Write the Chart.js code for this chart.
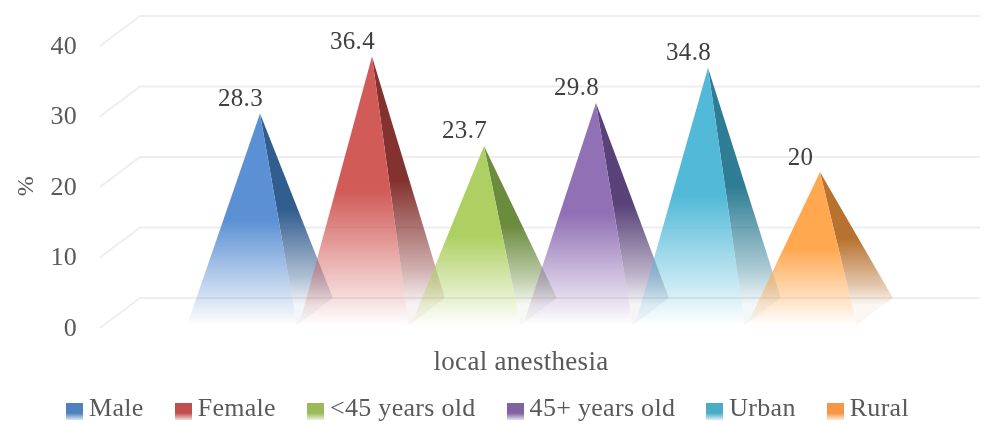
<!DOCTYPE html>
<html>
<head>
<meta charset="utf-8">
<title>Local anesthesia</title>
<script src="https://cdn.jsdelivr.net/npm/chart.js@4"></script>
<style>
  html, body { margin: 0; padding: 0; background: #fff; }
  canvas { display: block; }
</style>
</head>
<body>
<canvas id="pyramidChart" width="984" height="424"></canvas>
<script>
// Chart data
const categories = ['local anesthesia'];
const seriesNames = ['Male', 'Female', '<45 years old', '45+ years old', 'Urban', 'Rural'];
const seriesValues = [28.3, 36.4, 23.7, 29.8, 34.8, 20];
const yTicks = [0, 10, 20, 30, 40];

// Face colours per series, lit side and shaded side, then the legend markers
const frontColors = ['91,144,212', '209,91,87', '174,208,98', '145,112,181', '82,186,216', '255,168,80'];
const sideColors = ['50,93,143', '132,50,48', '107,139,62', '88,66,120', '47,125,148', '184,114,48'];
const legendColors = ['79,129,189', '192,80,77', '155,187,89', '128,100,162', '75,172,198', '247,150,70'];

const FONT = 'Liberation Serif';
const FONT_SIZE = 25;
const GRID_DEPTH_X = 20; // floor depth of the fake 3D view
const GRID_DEPTH_Y = 15;
const BASE_DEPTH_X = 18; // pyramid footprint is a bit shallower than the floor
const BASE_FRONT_Y = 12;
const BASE_BACK_Y = 15;
const SIDE_FADE_END = 8; // shaded face is gone just under the wall line

// vertical fade: solid down to the middle, then thinning out
function fadeGradient(ctx, top, bottom, rgb, stops) {
    const g = ctx.createLinearGradient(0, top, 0, bottom);
    g.addColorStop(0, `rgba(${rgb},1)`);
    stops.forEach((s) => g.addColorStop(s[0], `rgba(${rgb},${s[1]})`));
    return g;
}
const frontFade = [[0.5, 1], [0.75, 0.5], [0.92, 0.17], [1, 0]];
const sideFade = [[0.5, 1], [0.85, 0.4], [1, 0.06]];

// little gradient square used as legend marker, drawn in the lower part of
// its canvas because the text midline sits a bit above the marker centre
function legendSwatch(rgb) {
    const c = document.createElement('canvas');
    c.width = 17;
    c.height = 21;
    const sctx = c.getContext('2d');
    const g = sctx.createLinearGradient(0, 4, 0, 21);
    g.addColorStop(0, `rgba(${rgb},1)`);
    g.addColorStop(0.6, `rgba(${rgb},1)`);
    g.addColorStop(1, `rgba(${rgb},0.2)`);
    sctx.fillStyle = g;
    sctx.fillRect(0, 4, 17, 17);
    return c;
}

function fillFace(ctx, points, style) {
    ctx.fillStyle = style;
    ctx.beginPath();
    ctx.moveTo(points[0][0], points[0][1]);
    points.slice(1).forEach((p) => ctx.lineTo(p[0], p[1]));
    ctx.closePath();
    ctx.fill();
}

// letter spacing has to be on the context before text gets measured
const textSpacing = {
    id: 'textSpacing',
    beforeLayout(chart) { chart.ctx.letterSpacing = '0.3px'; },
    beforeDraw(chart) { chart.ctx.letterSpacing = '0.3px'; }
};

// small nudges after layout: x labels are clipped to the scale box, so it
// reaches over the legend; the % title sits lower; the legend moves right
const boxNudges = {
    id: 'boxNudges',
    afterLayout(chart) {
        chart.scales.x.bottom += 40;
        chart.scales.y.bottom += 28;
        chart.legend.left += 7.5;
        chart.legend.right += 7.5;
    }
};

// back wall lines and floor diagonals for each y tick
const wallGrid = {
    id: 'wallGrid',
    beforeDatasetsDraw(chart) {
        const { ctx, chartArea, scales } = chart;
        ctx.save();
        ctx.strokeStyle = '#eeeeee';
        ctx.lineWidth = 2;
        yTicks.forEach((tick) => {
            const y = scales.y.getPixelForValue(tick);
            ctx.beginPath();
            ctx.moveTo(chartArea.left - GRID_DEPTH_X, y + GRID_DEPTH_Y);
            ctx.lineTo(chartArea.left + GRID_DEPTH_X, y - GRID_DEPTH_Y);
            ctx.lineTo(chartArea.right + GRID_DEPTH_X, y - GRID_DEPTH_Y);
            ctx.stroke();
        });
        ctx.restore();
    }
};

// each bar becomes a pyramid with two visible faces, plus its value label
const pyramids = {
    id: 'pyramids',
    afterDatasetsDraw(chart) {
        const { ctx } = chart;
        ctx.save();
        chart.data.datasets.forEach((ds, i) => {
            chart.getDatasetMeta(i).data.forEach((bar) => {
                const half = bar.width / 2;
                const apex = [bar.x, bar.y];
                const bottom = bar.base + BASE_FRONT_Y;
                const frontLeft = [bar.x - half - BASE_DEPTH_X, bottom];
                const frontRight = [bar.x + half - BASE_DEPTH_X, bottom];
                const backRight = [bar.x + half + BASE_DEPTH_X, bar.base - BASE_BACK_Y];
                fillFace(ctx, [apex, frontRight, backRight], fadeGradient(ctx, bar.y, bar.base - SIDE_FADE_END, sideColors[i], sideFade));
                fillFace(ctx, [apex, frontLeft, frontRight], fadeGradient(ctx, bar.y, bottom, frontColors[i], frontFade));
            });
        });
        ctx.fillStyle = '#404040';
        ctx.font = `${FONT_SIZE}px "${FONT}"`;
        ctx.textAlign = 'center';
        ctx.textBaseline = 'middle';
        chart.data.datasets.forEach((ds, i) => {
            chart.getDatasetMeta(i).data.forEach((bar, j) => {
                ctx.fillText(String(ds.data[j]), bar.x - 19.5, bar.y - 14);
            });
        });
        ctx.restore();
    }
};

const pyramidChart = new Chart(document.getElementById('pyramidChart').getContext('2d'), {
    type: 'bar',
    data: {
        labels: categories,
        datasets: seriesNames.map((name, i) => ({
            label: name,
            data: [seriesValues[i]],
            backgroundColor: 'rgba(0,0,0,0)',
            borderWidth: 0,
            categoryPercentage: 0.8,
            barPercentage: 0.98,
            pointStyle: legendSwatch(legendColors[i])
        }))
    },
    options: {
        responsive: false,
        animation: false,
        layout: { padding: { left: 7, right: 24, top: 31, bottom: -8.5 } },
        scales: {
            x: {
                grid: { display: false, tickLength: 34 },
                border: { display: false },
                ticks: {
                    color: '#595959',
                    font: { family: FONT, size: 27 },
                    padding: 0,
                    autoSkip: false,
                    labelOffset: -19,
                    maxRotation: 0
                },
                afterFit(scale) { scale.height = 45.5; }
            },
            y: {
                min: 0,
                max: 40,
                grid: { display: false, tickLength: 40 },
                border: { display: false },
                ticks: {
                    stepSize: 10,
                    color: '#595959',
                    font: { family: FONT, size: 26 },
                    padding: 3,
                    labelOffset: 16
                },
                title: {
                    display: true,
                    text: '%',
                    color: '#595959',
                    font: { family: FONT, size: 24 },
                    padding: { top: 5, bottom: 6.6 }
                }
            }
        },
        plugins: {
            tooltip: { enabled: false },
            legend: {
                position: 'bottom',
                labels: {
                    usePointStyle: true,
                    pointStyleWidth: 3,
                    color: '#595959',
                    font: { family: FONT, size: 26 },
                    padding: 38
                }
            }
        }
    },
    plugins: [textSpacing, boxNudges, wallGrid, pyramids]
});
</script>
</body>
</html>
